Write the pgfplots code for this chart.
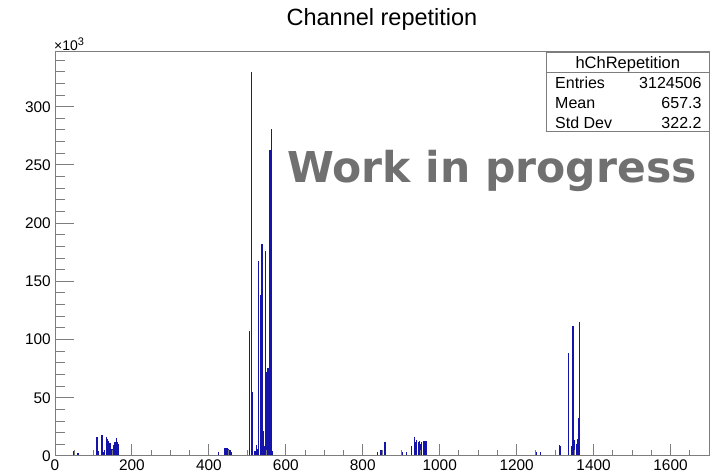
\documentclass[border=0pt]{standalone}
\usepackage{pgfplots}
\usepackage{pgfplotstable}
\pgfplotsset{compat=1.18}
\usepackage{fontspec}
\setmainfont{Liberation Sans}
\newfontfamily\wipfont{DejaVu Sans}

\definecolor{histblue}{RGB}{20,20,170}
\definecolor{framegray}{RGB}{125,125,125}
\definecolor{wipgray}{RGB}{112,112,112}

% Channel repetition counts (in units of 10^3), one row per bin edge:
% a filled bin (x, y) is closed by (x+1, 0) unless the next bin follows.
\pgfplotstableread{
x y
0 0
47 4
48 0
59 2.5
60 0
108 16
109 0
110 7
111 0
112 4
113 0
121 18
122 0
123 15
124 0
126 3
127 0
128 5
129 0
133 16
134 0
135 14
136 0
138 13
139 0
142 11
143 0
145 4
146 0
147 6
148 0
151 9
152 0
153 7
154 0
155 12
156 0
158 15
159 0
161 12
162 0
163 10
164 0
424 3.5
425 0
434 1
435 0
441 6.5
442 0
444 5
445 0
446 7
447 0
450 6
451 0
452 5
453 0
454 4.5
455 0
458 3
459 0
505 107
506 0
510 330
511 0
513 55
514 0
519 4
520 0
522 9
523 0
524 6
525 0
528 167
529 0
533 138
534 60
535 0
537 182
538 0
540 21
541 0
542 8
543 0
546 176
547 0
548 72
549 60
550 0
553 75
554 70
555 0
558 263
559 0
561 281
562 0
564 4
565 0
838 3
839 0
846 5
847 0
851 4
852 0
857 12
858 0
899 5
900 0
902 3
903 0
913 3.5
914 0
926 8
927 0
934 16.5
935 0
937 12
938 0
939 13.5
940 0
943 11.5
944 0
945 9
946 0
947 13
948 0
950 10
951 0
952 12
953 0
956 13
957 0
958 11
959 0
960 13
961 0
963 13
964 0
1246 1
1247 0
1250 3
1251 0
1261 3.5
1262 0
1310 9
1311 0
1312 8
1313 0
1333 88
1334 40
1335 0
1342 8
1343 0
1345 111
1346 0
1347 10
1348 0
1350 13.5
1351 0
1354 10
1355 0
1357 14
1358 0
1359 32
1360 0
1362 115
1363 0
1700 0
}\hchrep

\pgfplotsset{
  rootframe/.style={
    at={(55pt,20pt)}, anchor=south west,
    scale only axis, width=654pt, height=404pt,
    xmin=0, xmax=1700, ymin=0, ymax=347,
    scaled ticks=false,
    /pgf/number format/assume math mode=true,
    /pgf/number format/1000 sep={},
    tick align=inside,
    tick style={framegray, line width=1pt},
  },
}

\begin{document}
\begin{tikzpicture}[x=1pt,y=1pt]
\useasboundingbox (0,0) rectangle (710,476);

% frame, histogram and y axis
\begin{axis}[rootframe,
    axis on top,
    axis line style={framegray, line width=1pt},
    xtick=\empty,
    ytick={0,50,...,350}, minor y tick num=4,
    ytick pos=left,
    major tick length=19pt, minor tick length=9.5pt,
    yticklabel style={font=\fontsize{15.4}{16}\selectfont, inner sep=0pt, xshift=-4pt},
  ]
  \addplot[const plot mark left, histblue, line width=0.55pt] table[x=x, y=y] {\hchrep};
\end{axis}

% x axis ticks and labels
\begin{axis}[rootframe,
    axis line style={draw=none},
    ytick=\empty,
    xtick={0,200,...,1800}, minor x tick num=3,
    xtick pos=bottom,
    major tick length=12pt, minor tick length=6pt,
    xticklabel style={font=\fontsize{15.4}{16}\selectfont, inner sep=0pt, yshift=-4pt},
  ]
\end{axis}

% exponent of the y axis
\node[anchor=base west, inner sep=0pt] at (54,425.3)
  {\fontsize{14}{15}\selectfont ×10\raisebox{5pt}{\fontsize{11}{12}\selectfont 3}};

% title
\node[anchor=base, inner sep=0pt] at (382,450) {\fontsize{23.5}{24}\selectfont Channel repetition};

% statistics box
\filldraw[fill=white, draw=framegray, line width=1pt] (546.5,423.5) rectangle (709,344);
\draw[framegray, line width=1pt] (546.5,403.7) -- (709,403.7);
\node[anchor=base, inner sep=0pt] at (627.8,407.7) {\fontsize{16.5}{17}\selectfont hChRepetition};
\begin{scope}[every node/.style={inner sep=0pt}, font=\fontsize{16}{17}\selectfont]
  \node[anchor=base west] at (555,387.7) {Entries};
  \node[anchor=base east] at (701.7,387.7) {3124506};
  \node[anchor=base west] at (555,367.7) {Mean};
  \node[anchor=base east] at (701.7,367.7) {657.3};
  \node[anchor=base west] at (555,347.7) {Std Dev};
  \node[anchor=base east] at (701.7,347.7) {322.2};
\end{scope}

% watermark
\node[anchor=base west, inner sep=0pt, text=wipgray] at (287,293)
  {\wipfont\bfseries\fontsize{42.5}{43}\selectfont Work in progress};
\end{tikzpicture}
\end{document}
